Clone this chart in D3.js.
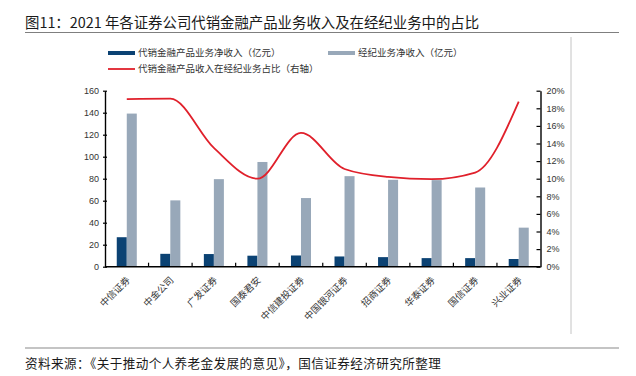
<!DOCTYPE html>
<html>
<head>
<meta charset="utf-8">
<script src="https://cdn.jsdelivr.net/npm/d3@7"></script>
<style>
  body { margin: 0; background: #fff; }
  svg { display: block; }
</style>
</head>
<body>
<div id="app"></div>
<script>
// data
const brokers = ['中信证券', '中金公司', '广发证券', '国泰君安', '中信建投证券',
  '中国银河证券', '招商证券', '华泰证券', '国信证券', '兴业证券'];
const agencyIncome = [26.8, 11.7, 11.5, 10.0, 10.2, 9.3, 8.7, 7.8, 7.8, 7.0]; // 亿元
const brokerageIncome = [139.2, 60.3, 79.6, 95.2, 62.4, 82.3, 79.0, 78.7, 72.0, 35.5]; // 亿元
const agencyShare = [19.05, 19.1, 13.5, 10.0, 15.2, 11.1, 10.2, 9.95, 10.7, 18.75]; // %
const leftTicks = [0, 20, 40, 60, 80, 100, 120, 140, 160];
const rightTicks = [0, 2, 4, 6, 8, 10, 12, 14, 16, 18, 20];

const W = 636;
const H = 376;
const plot = { left: 105, right: 540.5, top: 90.7, bottom: 266.7 };
const darkFill = '#0b4273';
const lightFill = '#98a8b9';
const lineStroke = '#e0202b';
const cjk = '"Noto Sans CJK SC", "Noto Sans", sans-serif';
const num = '"Liberation Sans", Arial, sans-serif';

const svg = d3.select('#app')
  .append('svg')
  .attr('width', W)
  .attr('height', H);

// title + frame lines
svg.append('text')
  .attr('x', 25)
  .attr('y', 27.5)
  .attr('font-family', cjk)
  .attr('font-size', 14.4)
  .attr('fill', '#1a1a1a')
  .text('图11：2021 年各证券公司代销金融产品业务收入及在经纪业务中的占比');

svg.append('line')
  .attr('x1', 25).attr('x2', 619)
  .attr('y1', 32.5).attr('y2', 32.5)
  .attr('stroke', '#7f7f7f')
  .attr('stroke-width', 1);

svg.append('line')
  .attr('x1', 571).attr('x2', 571)
  .attr('y1', 37).attr('y2', 334)
  .attr('stroke', '#c4c4c4')
  .attr('stroke-width', 1);

svg.append('line')
  .attr('x1', 25).attr('x2', 619)
  .attr('y1', 348).attr('y2', 348)
  .attr('stroke', '#b0b0b0')
  .attr('stroke-width', 1.5);

svg.append('text')
  .attr('x', 25)
  .attr('y', 367.5)
  .attr('font-family', cjk)
  .attr('font-size', 12.6)
  .attr('letter-spacing', 0.4)
  .attr('fill', '#1a1a1a')
  .text('资料来源：《关于推动个人养老金发展的意见》，国信证券经济研究所整理');

// scales
const pad = 0.54;
const x = d3.scaleBand()
  .domain(brokers)
  .range([plot.left, plot.right])
  .paddingInner(pad)
  .paddingOuter(pad / 2);

const xSub = d3.scaleBand()
  .domain(['agency', 'brokerage'])
  .range([0, x.bandwidth()]);

const yLeft = d3.scaleLinear()
  .domain([0, 160])
  .range([plot.bottom, plot.top]);

const yRight = d3.scaleLinear()
  .domain([0, 20])
  .range([plot.bottom, plot.top]);

// bars
const groups = svg.append('g')
  .selectAll('g')
  .data(brokers)
  .join('g')
  .attr('transform', d => `translate(${x(d)},0)`);

groups.append('rect')
  .attr('x', xSub('agency'))
  .attr('width', xSub.bandwidth())
  .attr('y', (d, i) => yLeft(agencyIncome[i]))
  .attr('height', (d, i) => yLeft(0) - yLeft(agencyIncome[i]))
  .attr('fill', darkFill);

groups.append('rect')
  .attr('x', xSub('brokerage'))
  .attr('width', xSub.bandwidth())
  .attr('y', (d, i) => yLeft(brokerageIncome[i]))
  .attr('height', (d, i) => yLeft(0) - yLeft(brokerageIncome[i]))
  .attr('fill', lightFill);

// share line (right axis), smoothed
const line = d3.line()
  .x((d, i) => x(brokers[i]) + x.bandwidth() / 2)
  .y(d => yRight(d))
  .curve(d3.curveMonotoneX);

svg.append('path')
  .datum(agencyShare)
  .attr('d', line)
  .attr('fill', 'none')
  .attr('stroke', lineStroke)
  .attr('stroke-width', 1.8);

// left axis
const leftAxis = svg.append('g')
  .attr('transform', `translate(${plot.left},0)`)
  .call(d3.axisLeft(yLeft).tickValues(leftTicks).tickSize(3).tickSizeOuter(0));
leftAxis.select('.domain').attr('stroke', '#000').attr('stroke-width', 1.4);
leftAxis.selectAll('.tick line').attr('stroke', '#000').attr('stroke-width', 1.2).attr('x2', 2).attr('x1', -2);
leftAxis.selectAll('.tick text')
  .attr('x', -6)
  .attr('font-family', num)
  .attr('font-size', 9)
  .attr('fill', '#333');

// right axis
const rightAxis = svg.append('g')
  .attr('transform', `translate(${plot.right},0)`)
  .call(d3.axisRight(yRight).tickValues(rightTicks).tickFormat(d => `${d}%`).tickSize(0).tickSizeOuter(0));
rightAxis.select('.domain').attr('stroke', '#000').attr('stroke-width', 1.4);
rightAxis.selectAll('.tick line').attr('stroke', '#000').attr('stroke-width', 1.2).attr('x2', -4);
rightAxis.selectAll('.tick text')
  .attr('x', 6)
  .attr('font-family', num)
  .attr('font-size', 9)
  .attr('fill', '#333');

// bottom axis: line, boundary ticks pointing up, rotated labels
const bottom = svg.append('g');
bottom.append('line')
  .attr('x1', plot.left).attr('x2', plot.right)
  .attr('y1', plot.bottom).attr('y2', plot.bottom)
  .attr('stroke', '#000')
  .attr('stroke-width', 1.4);

bottom.selectAll('.sep')
  .data(brokers.slice(1))
  .join('line')
  .attr('class', 'sep')
  .attr('x1', d => x(d) - (x.step() * pad) / 2)
  .attr('x2', d => x(d) - (x.step() * pad) / 2)
  .attr('y1', plot.bottom)
  .attr('y2', plot.bottom - 4)
  .attr('stroke', '#000')
  .attr('stroke-width', 1.2);

bottom.selectAll('.lbl')
  .data(brokers)
  .join('text')
  .attr('class', 'lbl')
  .attr('transform', d => `translate(${x(d) + x.bandwidth() / 2 + 4},${plot.bottom + 14}) rotate(-45)`)
  .attr('text-anchor', 'end')
  .attr('font-family', cjk)
  .attr('font-size', 9.5)
  .attr('fill', '#333')
  .text(d => d);

// legend
const legend = svg.append('g')
  .attr('font-family', cjk)
  .attr('font-size', 9.5)
  .attr('fill', '#333');

const legendItems = [
  { label: '代销金融产品业务净收入（亿元）', kind: 'rect', color: darkFill, x: 108, y: 53 },
  { label: '经纪业务净收入（亿元）', kind: 'rect', color: lightFill, x: 328, y: 53 },
  { label: '代销金融产品收入在经纪业务占比（右轴）', kind: 'line', color: lineStroke, x: 108, y: 69 },
];

legendItems.forEach((item) => {
  if (item.kind === 'rect') {
    legend.append('rect')
      .attr('x', item.x).attr('y', item.y - 2)
      .attr('width', 27).attr('height', 4)
      .attr('fill', item.color);
  } else {
    legend.append('line')
      .attr('x1', item.x).attr('x2', item.x + 27)
      .attr('y1', item.y).attr('y2', item.y)
      .attr('stroke', item.color)
      .attr('stroke-width', 1.8);
  }
  legend.append('text')
    .attr('x', item.x + 30)
    .attr('y', item.y)
    .attr('dy', '0.35em')
    .text(item.label);
});
</script>
</body>
</html>
